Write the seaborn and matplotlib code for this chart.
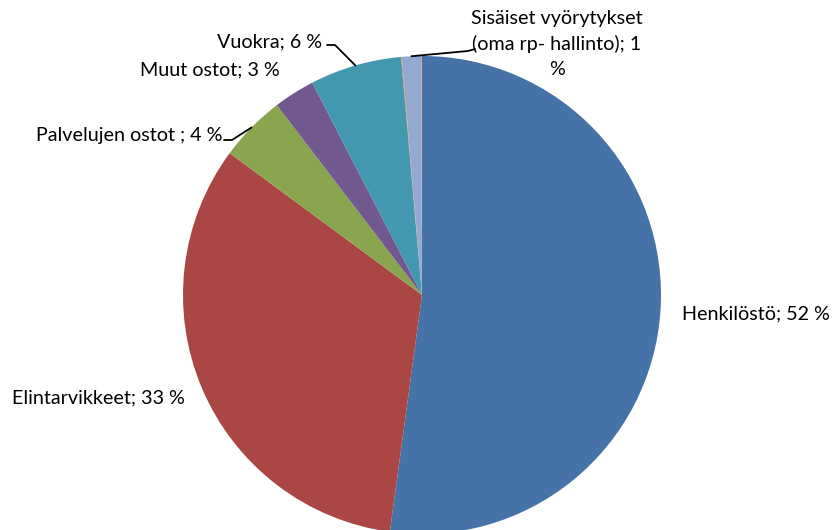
import numpy as np
import seaborn as sns
import matplotlib.pyplot as plt

# Kustannusrakenne
osat = ["Henkilöstö", "Elintarvikkeet", "Palvelujen ostot", "Muut ostot",
        "Vuokra", "", "Sisäiset vyörytykset (oma rp- hallinto)", ""]
osuudet = [52.2, 33.0, 4.5, 2.8, 6.2, 0.05, 1.3, 0.05]
tekstit = ["Henkilöstö; 52 %", "Elintarvikkeet; 33 %", "Palvelujen ostot ; 4 %",
           "Muut ostot; 3 %", "Vuokra; 6 %", "",
           "Sisäiset vyörytykset\n(oma rp- hallinto); 1\n%", ""]
varit = ["#4572A7", "#AA4643", "#89A54E", "#71588F", "#4198AF", "#DB843D", "#93A9CF", "#D19392"]

sns.set_theme(style="white")
plt.rcParams["font.family"] = ["Lato", "DejaVu Sans"]

W, H = 832, 530
cx, cy, r = 422, 295, 239

def px(x, y):
    return (x - cx) / r, (cy - y) / r

fig = plt.figure(figsize=(W / 100, H / 100), dpi=100)
ax = fig.add_axes([0, 0, 1, 1])
wedges, _ = ax.pie(osuudet, colors=sns.color_palette(varit), startangle=90, counterclock=False,
                   wedgeprops=dict(linewidth=0))
ax.set_xlim(-cx / r, (W - cx) / r)
ax.set_ylim((cy - H) / r, cy / r)
ax.set_aspect("equal")
ax.axis("off")

# label placement (pixels): x, y, ha, leader elbow or None
paikat = [(682, 314, "left", None),
          (12, 398, "left", None),
          (222, 135, "right", (224, 140, 232, 140)),
          (280, 70, "right", None),
          (322, 42, "right", (327, 45, 335, 45)),
          None,
          (557, 44, "center", (475, 49, 468, 51)),
          None]

for w, t, p in zip(wedges, tekstit, paikat):
    if p is None:
        continue
    x, y, ha, leader = p
    tx, ty = px(x, y)
    ax.text(tx, ty, t, ha=ha, va="center", fontsize=14.2, color="black", linespacing=1.55)
    if leader is not None:
        mid = np.deg2rad((w.theta1 + w.theta2) / 2)
        ex, ey = np.cos(mid), np.sin(mid)
        x1, y1 = px(leader[0], leader[1])
        x2, y2 = px(leader[2], leader[3])
        ax.plot([x1, x2, ex], [y1, y2, ey], color="black", lw=1.3)

fig.savefig("out.png", dpi=100)
